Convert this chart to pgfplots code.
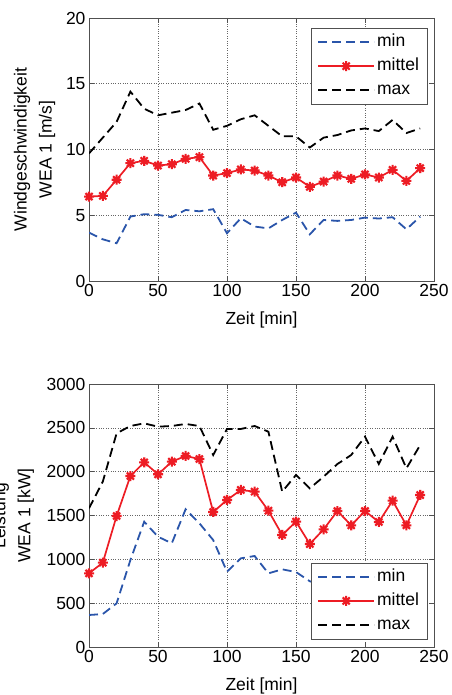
\documentclass[border=0pt]{standalone}
\usepackage{fontspec}
\setmainfont{Liberation Sans}
\usepackage{pgfplots}
\pgfplotsset{compat=1.18}
\definecolor{mblue}{RGB}{42,85,170}
\definecolor{mred}{RGB}{237,28,36}
\definecolor{axgray}{RGB}{80,80,80}
\pgfdeclareplotmark{mstar}{%
 \pgfpathmoveto{\pgfqpoint{-\pgfplotmarksize}{0pt}}\pgfpathlineto{\pgfqpoint{\pgfplotmarksize}{0pt}}%
 \pgfpathmoveto{\pgfqpoint{0pt}{-\pgfplotmarksize}}\pgfpathlineto{\pgfqpoint{0pt}{\pgfplotmarksize}}%
 \pgfpathmoveto{\pgfqpoint{-.707\pgfplotmarksize}{-.707\pgfplotmarksize}}\pgfpathlineto{\pgfqpoint{.707\pgfplotmarksize}{.707\pgfplotmarksize}}%
 \pgfpathmoveto{\pgfqpoint{-.707\pgfplotmarksize}{.707\pgfplotmarksize}}\pgfpathlineto{\pgfqpoint{.707\pgfplotmarksize}{-.707\pgfplotmarksize}}%
 \pgfusepathqstroke}
\pgfplotsset{
  mystyle/.style={
    scale only axis, width=345pt, height=263pt,
    xmin=0, xmax=250, xtick={0,50,...,250},
    tick label style={font=\fontsize{17.5}{21}\selectfont},
    /pgf/number format/assume math mode=true,
    /pgf/number format/1000 sep={},
    scaled y ticks=false,
    grid=major, major grid style={dotted, black!60, line width=0.6pt},
    axis line style={axgray, line width=0.8pt},
    tick style={axgray, line width=0.6pt},
    tick align=inside, major tick length=5pt,
    xlabel={Zeit [min]},
    xlabel style={font=\fontsize{17.5}{21}\selectfont, at={(axis description cs:0.5,-0.148)}, anchor=center},
    ylabel style={font=\fontsize{17.5}{25}\selectfont, align=center, anchor=center},
    legend cell align=left,
    legend style={draw=axgray, font=\fontsize{17.5}{21}\selectfont,
      inner xsep=6pt, inner ysep=4pt, row sep=4pt,
      nodes={text height=12.5pt, text depth=3.5pt}},
    legend image code/.code={\draw[mark repeat=2,mark phase=2,#1] plot coordinates {(0pt,0pt)(28pt,0pt)(56pt,0pt)};},
    minline/.style={mblue, line width=1.8pt, dash pattern=on 9pt off 5pt},
    maxline/.style={black, line width=1.8pt, dash pattern=on 9pt off 5pt},
    midline/.style={mred, line width=1.7pt, mark=mstar, mark size=5pt, mark options={solid, line width=2.1pt}},
  }
}
\begin{document}
\begin{tikzpicture}
\begin{axis}[mystyle, at={(89pt,414pt)}, anchor=south west,
  ymin=0, ymax=20, ytick={0,5,...,20},
  ylabel={Windgeschwindigkeit\\WEA 1 [m/s]},
  ylabel style={at={(axis description cs:-0.158,0.5)}},
  legend style={at={(axis description cs:0.980,0.962)}, anchor=north east}]
\addplot[minline] coordinates {
(0,3.68)(10,3.17)(20,2.87)(30,4.9)(40,5.08)(50,5.03)(60,4.85)(70,5.4)(80,5.3)(90,5.46)
(100,3.63)(110,4.77)(120,4.14)(130,4.0)(140,4.64)(150,5.2)(160,3.55)(170,4.64)(180,4.57)
(190,4.64)(200,4.82)(210,4.75)(220,4.85)(230,3.93)(240,4.9)};
\addlegendentry{min}
\addplot[midline] coordinates {
(0,6.42)(10,6.47)(20,7.7)(30,8.96)(40,9.14)(50,8.78)(60,8.88)(70,9.29)(80,9.42)(90,8.02)
(100,8.2)(110,8.48)(120,8.4)(130,8.02)(140,7.51)(150,7.87)(160,7.16)(170,7.56)(180,8.02)
(190,7.77)(200,8.1)(210,7.87)(220,8.45)(230,7.61)(240,8.58)};
\addlegendentry{mittel}
\addplot[maxline] coordinates {
(0,9.7)(10,10.9)(20,12.1)(30,14.4)(40,13.1)(50,12.6)(60,12.8)(70,13.0)(80,13.5)(90,11.5)
(100,11.8)(110,12.3)(120,12.6)(130,11.8)(140,11.0)(150,11.0)(160,10.15)(170,10.9)(180,11.1)
(190,11.45)(200,11.6)(210,11.4)(220,12.25)(230,11.25)(240,11.6)};
\addlegendentry{max}
\end{axis}
\begin{axis}[mystyle, at={(89pt,48pt)}, anchor=south west,
  ymin=0, ymax=3000, ytick={0,500,...,3000},
  ylabel={Leistung\\WEA 1 [kW]},
  ylabel style={at={(axis description cs:-0.219,0.5)}},
  legend style={at={(axis description cs:0.980,0.030)}, anchor=south east}]
\addplot[minline] coordinates {
(0,365)(10,376)(20,498)(30,992)(40,1429)(50,1258)(60,1183)(70,1571)(80,1411)(90,1220)
(100,859)(110,1011)(120,1038)(130,840)(140,886)(150,855)(160,750)(170,700)(180,760)
(190,800)(200,820)(210,760)(220,830)(230,700)(240,860)};
\addlegendentry{min}
\addplot[midline] coordinates {
(0,840)(10,962)(20,1494)(30,1950)(40,2106)(50,1970)(60,2114)(70,2179)(80,2144)(90,1540)
(100,1677)(110,1791)(120,1772)(130,1555)(140,1278)(150,1430)(160,1175)(170,1342)(180,1551)
(190,1388)(200,1551)(210,1426)(220,1669)(230,1388)(240,1734)};
\addlegendentry{mittel}
\addplot[maxline] coordinates {
(0,1582)(10,1886)(20,2437)(30,2521)(40,2551)(50,2513)(60,2521)(70,2544)(80,2521)(90,2190)
(100,2487)(110,2487)(120,2521)(130,2456)(140,1772)(150,1962)(160,1810)(170,1943)(180,2087)
(190,2190)(200,2399)(210,2087)(220,2399)(230,2038)(240,2304)};
\addlegendentry{max}
\end{axis}
\pgfresetboundingbox
\path[use as bounding box] (0,0) rectangle (451pt,695pt);
\end{tikzpicture}
\end{document}
